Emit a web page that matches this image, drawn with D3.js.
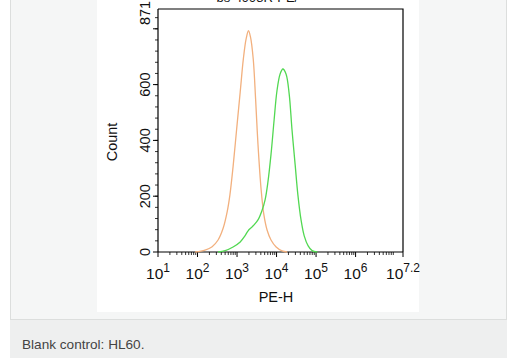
<!DOCTYPE html>
<html><head><meta charset="utf-8">
<script src="https://cdn.jsdelivr.net/npm/d3@7"></script>
<style>
html,body{margin:0;padding:0;background:#fff;}
svg{display:block;font-family:"Liberation Sans",Arial,sans-serif;}
</style></head>
<body>
<svg id="c" width="522" height="358"></svg>
<script>
// Data: log10(PE-H) positions and counts
const blankLog   = [1.94,2.19,2.37,2.52,2.65,2.75,2.82,2.90,2.99,3.08,3.16,3.23,3.29,3.34,3.41,3.47,3.53,3.61,3.68,3.76,3.86,3.99,4.14,4.27];
const blankCount = [0,7,19,43,86,144,205,306,440,573,692,764,793,771,692,548,386,223,133,79,43,18,4,0];
const stainLog   = [2.52,2.70,2.90,3.08,3.20,3.28,3.35,3.43,3.53,3.63,3.71,3.78,3.86,3.94,4.01,4.09,4.16,4.24,4.32,4.39,4.47,4.54,4.62,4.70,4.80,4.90,5.03];
const stainCount = [0,5,18,36,58,76,86,97,115,148,187,249,350,476,577,638,656,638,566,440,314,205,115,58,22,5,0];
const xTickExp   = ["1","2","3","4","5","6","7.2"];
const xTickVals  = [1,2,3,4,5,6,7.2];
const yTickVals  = [0,200,400,600];
const yMax = 871;
const caption = "Blank control: HL60.";

const svg = d3.select("#c");
// outer panel
svg.append("rect").attr("x",10.5).attr("y",-2).attr("width",496).attr("height",321.5)
  .attr("fill","#f5f6f6").attr("stroke","#dcdedd");
svg.append("rect").attr("x",97).attr("y",0).attr("width",322).attr("height",312).attr("fill","#fff");
svg.append("rect").attr("x",10).attr("y",320).attr("width",497).attr("height",38).attr("fill","#eeefef");
svg.append("text").attr("x",22).attr("y",349).attr("font-size",13.6).attr("fill","#444").text(caption);

const L=158, R=403, T=9, B=252;
const x = d3.scaleLinear().domain([1,7.2]).range([L,R]);
const y = d3.scaleLinear().domain([0,yMax]).range([B,T]);

// title (mostly clipped at top, as in the reference)
const title = svg.append("text").attr("x",265).attr("y",2).attr("text-anchor","middle").attr("font-size",13).attr("fill","#111");
title.append("tspan").text("bs-4998R-PE/");
title.append("tspan").attr("fill","#5dd85d").text("***");

// box
svg.append("path").attr("d",`M${L},${T}H${R}V${B}`).attr("fill","none").attr("stroke","#000").attr("stroke-width",1.2);
svg.append("line").attr("x1",L).attr("x2",R).attr("y1",B).attr("y2",B).attr("stroke","#000").attr("stroke-width",1.2);
svg.append("line").attr("x1",L).attr("x2",L).attr("y1",T).attr("y2",B).attr("stroke","#000").attr("stroke-width",1.2);

// x ticks
const g = svg.append("g");
for (let d=1; d<7.2; d++){
  for (let m=2; m<=9; m++){
    const v = d+Math.log10(m);
    if (v>7.2) break;
    g.append("line").attr("x1",x(v)).attr("x2",x(v)).attr("y1",B).attr("y2",B+3).attr("stroke","#000").attr("stroke-width",0.8);
  }
}
xTickVals.forEach((v,i)=>{
  g.append("line").attr("x1",x(v)).attr("x2",x(v)).attr("y1",B).attr("y2",B+5).attr("stroke","#000").attr("stroke-width",1);
  const t = g.append("text").attr("x",x(v)).attr("y",B+27).attr("text-anchor","middle").attr("font-size",15.5).attr("fill","#111");
  t.append("tspan").text("10");
  t.append("tspan").attr("dy",-7).attr("font-size",12).text(xTickExp[i]);
});
svg.append("text").attr("x",276).attr("y",302).attr("text-anchor","middle").attr("font-size",14.5).attr("fill","#111").text("PE-H");

// y ticks
for (let v=40; v<yMax; v+=40){
  g.append("line").attr("x1",L).attr("x2",L-3).attr("y1",y(v)).attr("y2",y(v)).attr("stroke","#000").attr("stroke-width",0.8);
}
[0,200,400,600,800].forEach(v=>{
  g.append("line").attr("x1",L).attr("x2",L-5).attr("y1",y(v)).attr("y2",y(v)).attr("stroke","#000").attr("stroke-width",1);
});
yTickVals.forEach(v=>{
  g.append("text").attr("transform",`translate(${L-8},${y(v)}) rotate(-90)`).attr("text-anchor","middle")
    .attr("font-size",14.5).attr("fill","#111").text(v);
});
g.append("text").attr("transform",`translate(${L-8},${y(yMax)+4}) rotate(-90)`).attr("text-anchor","middle")
  .attr("font-size",14.5).attr("fill","#111").text(yMax);
svg.append("text").attr("transform",`translate(117,142) rotate(-90)`).attr("text-anchor","middle")
  .attr("font-size",14.5).attr("fill","#111").text("Count");

// curves
const line = d3.line().x(d=>x(d[0])).y(d=>y(d[1])).curve(d3.curveCatmullRom.alpha(0.5));
svg.append("path").datum(blankLog.map((v,i)=>[v,blankCount[i]])).attr("d",line)
  .attr("fill","none").attr("stroke","#f2b07e").attr("stroke-width",1.3);
svg.append("path").datum(stainLog.map((v,i)=>[v,stainCount[i]])).attr("d",line)
  .attr("fill","none").attr("stroke","#52d852").attr("stroke-width",1.3);
</script>
</body></html>
